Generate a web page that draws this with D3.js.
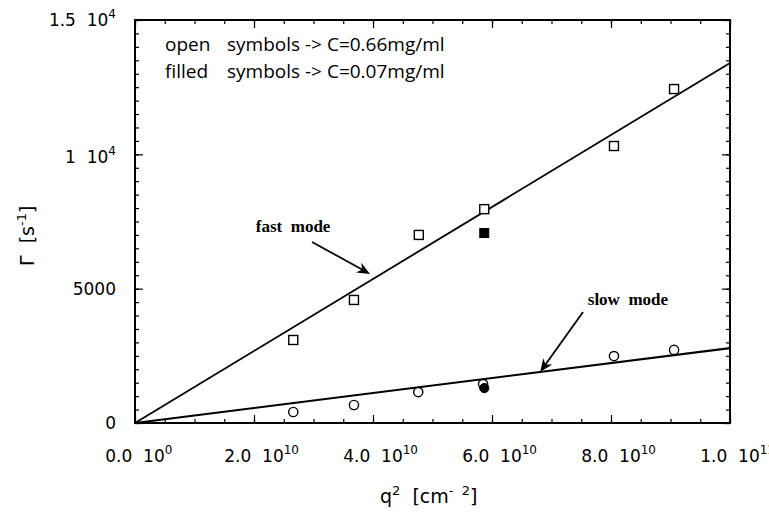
<!DOCTYPE html>
<html><head><meta charset="utf-8">
<script src="https://cdn.jsdelivr.net/npm/d3@7"></script>
<style>
html,body{margin:0;padding:0;background:#fff;}
text{white-space:pre;}
</style>
</head><body>
<svg id="chart" width="769" height="513"></svg>
<script>
// ---- data (q^2 in cm^-2, Gamma in s^-1) ----
const fastOpenQ2 = [2.66e10, 3.68e10, 4.77e10, 5.87e10, 8.05e10, 9.06e10];
const fastOpenGamma = [3090, 4580, 7000, 7960, 10310, 12430];
const fastFilledQ2 = [5.87e10];
const fastFilledGamma = [7070];
const slowOpenQ2 = [2.66e10, 3.68e10, 4.76e10, 5.85e10, 8.05e10, 9.06e10];
const slowOpenGamma = [410, 670, 1150, 1450, 2490, 2720];
const slowFilledQ2 = [5.87e10];
const slowFilledGamma = [1300];
const fitFastQ2 = [0, 1e11];
const fitFastGamma = [0, 13400];
const fitSlowQ2 = [0, 1e11];
const fitSlowGamma = [0, 2790];
const xMajorTicks = [0, 2e10, 4e10, 6e10, 8e10, 1e11];
const xTickMain = ["0.0  10", "2.0  10", "4.0  10", "6.0  10", "8.0  10", "1.0  10"];
const xTickSup = ["0", "10", "10", "10", "10", "11"];
const yMajorTicks = [0, 5000, 10000, 15000];
const yTickMain = ["0", "5000", "1  10", "1.5  10"];
const yTickSup = ["", "", "4", "4"];
const legendLines = [["open", "symbols -> C=0.66mg/ml"], ["filled", "symbols -> C=0.07mg/ml"]];
const annotations = [
  {label: "fast  mode", tx: 2.03e10, ty: 7110, x1: 2.975e10, y1: 6740, x2: 3.95e10, y2: 5550},
  {label: "slow  mode", tx: 7.61e10, ty: 4390, x1: 7.53e10, y1: 4130, x2: 6.81e10, y2: 1900}
];

const svg = d3.select("#chart");
const x = d3.scaleLinear().domain([0, 1e11]).range([135, 730]);
const y = d3.scaleLinear().domain([0, 15000]).range([423, 20]);
const tickFont = "'DejaVu Sans', sans-serif";

// minor ticks
const xMinor = d3.range(0, 1e11 + 1, 0.5e10);
const yMinor = d3.range(0, 15001, 500);
function axisGroup(axis, tr) {
  const g = svg.append("g").attr("transform", tr).call(axis);
  g.select(".domain").remove();
  g.selectAll("text").remove();
  g.selectAll("line").attr("stroke", "#000").attr("stroke-width", 1.2);
  return g;
}
axisGroup(d3.axisBottom(x).tickValues(xMinor).tickSize(-4), `translate(0,${y(0)})`);
axisGroup(d3.axisBottom(x).tickValues(xMajorTicks).tickSize(-8), `translate(0,${y(0)})`);
axisGroup(d3.axisTop(x).tickValues(xMinor).tickSize(-4), `translate(0,${y(15000)})`);
axisGroup(d3.axisTop(x).tickValues(xMajorTicks).tickSize(-8), `translate(0,${y(15000)})`);
axisGroup(d3.axisLeft(y).tickValues(yMinor).tickSize(-4), `translate(${x(0)},0)`);
axisGroup(d3.axisLeft(y).tickValues(yMajorTicks).tickSize(-8), `translate(${x(0)},0)`);
axisGroup(d3.axisRight(y).tickValues(yMinor).tickSize(-4), `translate(${x(1e11)},0)`);
axisGroup(d3.axisRight(y).tickValues(yMajorTicks).tickSize(-8), `translate(${x(1e11)},0)`);

// frame
svg.append("rect").attr("x", x(0)).attr("y", y(15000))
  .attr("width", x(1e11) - x(0)).attr("height", y(0) - y(15000))
  .attr("fill", "none").attr("stroke", "#000").attr("stroke-width", 2);

// x tick labels
xMajorTicks.forEach((v, i) => {
  const t = svg.append("text").attr("y", 462).attr("font-family", tickFont)
    .attr("font-size", 17).attr("fill", "#000");
  const m = t.append("tspan").text(xTickMain[i]);
  const w = m.node().getComputedTextLength();
  t.attr("x", x(v) - w / 2);
  t.append("tspan").attr("dy", -8).attr("font-size", 12).text(xTickSup[i]);
});
// y tick labels
yMajorTicks.forEach((v, i) => {
  const t = svg.append("text").attr("font-family", tickFont)
    .attr("font-size", 17).attr("fill", "#000").attr("text-anchor", "end")
    .attr("x", 116).attr("y", y(v) + 6 + (i === 2 ? 3 : 0));
  t.append("tspan").text(yTickMain[i]);
  if (yTickSup[i]) t.append("tspan").attr("dy", -8).attr("font-size", 12).text(yTickSup[i]);
});

// axis titles
const xt = svg.append("text").attr("x", 380).attr("y", 503).attr("font-family", tickFont)
  .attr("font-size", 19).attr("fill", "#000");
xt.append("tspan").text("q");
xt.append("tspan").attr("dy", -8).attr("font-size", 13).text("2");
xt.append("tspan").attr("dy", 8).text("  [cm");
xt.append("tspan").attr("dy", -8).attr("font-size", 13).text("-  2");
xt.append("tspan").attr("dy", 8).text("]");

const yt = svg.append("text").attr("transform", "translate(34,266) rotate(-90)")
  .attr("font-family", tickFont).attr("font-size", 19).attr("fill", "#000");
yt.append("tspan").text("\u0393  [s");
yt.append("tspan").attr("dy", -8).attr("font-size", 13).text("-1");
yt.append("tspan").attr("dy", 8).text("]");

// legend
legendLines.forEach((l, i) => {
  const yy = 51 + i * 27;
  svg.append("text").attr("x", 165).attr("y", yy).attr("font-family", "'Open Sans', sans-serif")
    .attr("font-size", 19).text(l[0]);
  svg.append("text").attr("x", 227).attr("y", yy).attr("font-family", "'Open Sans', sans-serif")
    .attr("font-size", 19).text(l[1]);
});

// fit lines
const line = d3.line().x(d => x(d[0])).y(d => y(d[1]));
svg.append("path").datum(fitFastQ2.map((q, i) => [q, fitFastGamma[i]]))
  .attr("d", line).attr("fill", "none").attr("stroke", "#000").attr("stroke-width", 1.8);
svg.append("path").datum(fitSlowQ2.map((q, i) => [q, fitSlowGamma[i]]))
  .attr("d", line).attr("fill", "none").attr("stroke", "#000").attr("stroke-width", 2.2);

// symbols
const sq = 9;
svg.selectAll(".fo").data(fastOpenQ2.map((q, i) => [q, fastOpenGamma[i]])).join("rect")
  .attr("x", d => x(d[0]) - sq / 2).attr("y", d => y(d[1]) - sq / 2)
  .attr("width", sq).attr("height", sq).attr("fill", "#fff").attr("stroke", "#000").attr("stroke-width", 1.4);
svg.selectAll(".ff").data(fastFilledQ2.map((q, i) => [q, fastFilledGamma[i]])).join("rect")
  .attr("x", d => x(d[0]) - sq / 2).attr("y", d => y(d[1]) - sq / 2)
  .attr("width", sq).attr("height", sq).attr("fill", "#000").attr("stroke", "#000").attr("stroke-width", 1);
svg.selectAll(".so").data(slowOpenQ2.map((q, i) => [q, slowOpenGamma[i]])).join("circle")
  .attr("cx", d => x(d[0])).attr("cy", d => y(d[1])).attr("r", 4.6)
  .attr("fill", "#fff").attr("stroke", "#000").attr("stroke-width", 1.4);
svg.selectAll(".sf").data(slowFilledQ2.map((q, i) => [q, slowFilledGamma[i]])).join("circle")
  .attr("cx", d => x(d[0])).attr("cy", d => y(d[1])).attr("r", 4.6)
  .attr("fill", "#000").attr("stroke", "#000");

// annotations
annotations.forEach(a => {
  svg.append("text").attr("x", x(a.tx)).attr("y", y(a.ty))
    .attr("font-family", "'Liberation Serif', serif").attr("font-weight", "bold")
    .attr("font-size", 17).text(a.label);
  const X1 = x(a.x1), Y1 = y(a.y1), X2 = x(a.x2), Y2 = y(a.y2);
  const ang = Math.atan2(Y2 - Y1, X2 - X1);
  const L = 13, W = 5.5;
  const bx = X2 - L * Math.cos(ang), by = Y2 - L * Math.sin(ang);
  const nx = -Math.sin(ang), ny = Math.cos(ang);
  const ix = X2 - 0.7 * L * Math.cos(ang), iy = Y2 - 0.7 * L * Math.sin(ang);
  svg.append("line").attr("x1", X1).attr("y1", Y1).attr("x2", ix).attr("y2", iy)
    .attr("stroke", "#000").attr("stroke-width", 1.8);
  svg.append("path").attr("d", `M${X2},${Y2}L${bx + nx * W},${by + ny * W}L${ix},${iy}L${bx - nx * W},${by - ny * W}Z`)
    .attr("fill", "#000");
});
</script>
</body></html>
